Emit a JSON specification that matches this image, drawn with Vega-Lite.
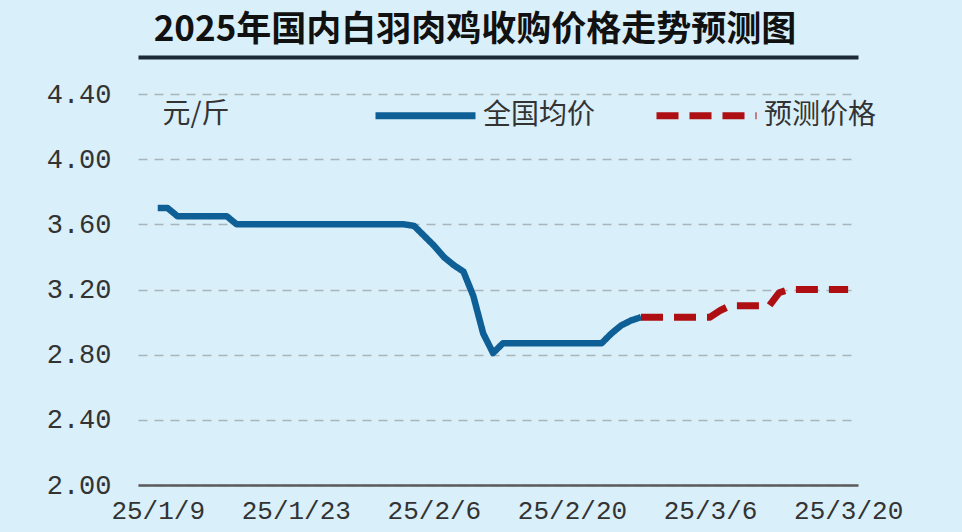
{
  "$schema": "https://vega.github.io/schema/vega-lite/v6.json",
  "width": 720,
  "height": 391,
  "autosize": {"type": "none"},
  "padding": {"left": 138, "top": 94, "right": 104, "bottom": 47},
  "background": "#d9eff9",
  "config": {"view": {"stroke": null}},
  "title": {
    "text": "2025年国内白羽肉鸡收购价格走势预测图",
    "font": "Noto Sans CJK SC",
    "fontWeight": "bold",
    "fontSize": 35,
    "color": "#111111",
    "anchor": "middle",
    "frame": "group",
    "dx": -23,
    "offset": 9
  },
  "data": {
    "values": [
      {"date": "2025/01/09", "price": 3.70, "series": "全国均价"},
      {"date": "2025/01/10", "price": 3.70, "series": "全国均价"},
      {"date": "2025/01/11", "price": 3.65, "series": "全国均价"},
      {"date": "2025/01/12", "price": 3.65, "series": "全国均价"},
      {"date": "2025/01/13", "price": 3.65, "series": "全国均价"},
      {"date": "2025/01/14", "price": 3.65, "series": "全国均价"},
      {"date": "2025/01/15", "price": 3.65, "series": "全国均价"},
      {"date": "2025/01/16", "price": 3.65, "series": "全国均价"},
      {"date": "2025/01/17", "price": 3.60, "series": "全国均价"},
      {"date": "2025/01/18", "price": 3.60, "series": "全国均价"},
      {"date": "2025/01/19", "price": 3.60, "series": "全国均价"},
      {"date": "2025/01/20", "price": 3.60, "series": "全国均价"},
      {"date": "2025/01/21", "price": 3.60, "series": "全国均价"},
      {"date": "2025/01/22", "price": 3.60, "series": "全国均价"},
      {"date": "2025/01/23", "price": 3.60, "series": "全国均价"},
      {"date": "2025/01/24", "price": 3.60, "series": "全国均价"},
      {"date": "2025/01/25", "price": 3.60, "series": "全国均价"},
      {"date": "2025/01/26", "price": 3.60, "series": "全国均价"},
      {"date": "2025/01/27", "price": 3.60, "series": "全国均价"},
      {"date": "2025/01/28", "price": 3.60, "series": "全国均价"},
      {"date": "2025/01/29", "price": 3.60, "series": "全国均价"},
      {"date": "2025/01/30", "price": 3.60, "series": "全国均价"},
      {"date": "2025/01/31", "price": 3.60, "series": "全国均价"},
      {"date": "2025/02/01", "price": 3.60, "series": "全国均价"},
      {"date": "2025/02/02", "price": 3.60, "series": "全国均价"},
      {"date": "2025/02/03", "price": 3.60, "series": "全国均价"},
      {"date": "2025/02/04", "price": 3.59, "series": "全国均价"},
      {"date": "2025/02/05", "price": 3.53, "series": "全国均价"},
      {"date": "2025/02/06", "price": 3.47, "series": "全国均价"},
      {"date": "2025/02/07", "price": 3.40, "series": "全国均价"},
      {"date": "2025/02/08", "price": 3.35, "series": "全国均价"},
      {"date": "2025/02/09", "price": 3.31, "series": "全国均价"},
      {"date": "2025/02/10", "price": 3.16, "series": "全国均价"},
      {"date": "2025/02/11", "price": 2.93, "series": "全国均价"},
      {"date": "2025/02/12", "price": 2.81, "series": "全国均价"},
      {"date": "2025/02/13", "price": 2.87, "series": "全国均价"},
      {"date": "2025/02/14", "price": 2.87, "series": "全国均价"},
      {"date": "2025/02/15", "price": 2.87, "series": "全国均价"},
      {"date": "2025/02/16", "price": 2.87, "series": "全国均价"},
      {"date": "2025/02/17", "price": 2.87, "series": "全国均价"},
      {"date": "2025/02/18", "price": 2.87, "series": "全国均价"},
      {"date": "2025/02/19", "price": 2.87, "series": "全国均价"},
      {"date": "2025/02/20", "price": 2.87, "series": "全国均价"},
      {"date": "2025/02/21", "price": 2.87, "series": "全国均价"},
      {"date": "2025/02/22", "price": 2.87, "series": "全国均价"},
      {"date": "2025/02/23", "price": 2.87, "series": "全国均价"},
      {"date": "2025/02/24", "price": 2.93, "series": "全国均价"},
      {"date": "2025/02/25", "price": 2.98, "series": "全国均价"},
      {"date": "2025/02/26", "price": 3.01, "series": "全国均价"},
      {"date": "2025/02/27", "price": 3.03, "series": "全国均价"},
      {"date": "2025/02/27", "price": 3.03, "series": "预测价格"},
      {"date": "2025/02/28", "price": 3.03, "series": "预测价格"},
      {"date": "2025/03/01", "price": 3.03, "series": "预测价格"},
      {"date": "2025/03/02", "price": 3.03, "series": "预测价格"},
      {"date": "2025/03/03", "price": 3.03, "series": "预测价格"},
      {"date": "2025/03/04", "price": 3.03, "series": "预测价格"},
      {"date": "2025/03/05", "price": 3.03, "series": "预测价格"},
      {"date": "2025/03/06", "price": 3.03, "series": "预测价格"},
      {"date": "2025/03/07", "price": 3.07, "series": "预测价格"},
      {"date": "2025/03/08", "price": 3.10, "series": "预测价格"},
      {"date": "2025/03/09", "price": 3.10, "series": "预测价格"},
      {"date": "2025/03/10", "price": 3.10, "series": "预测价格"},
      {"date": "2025/03/11", "price": 3.10, "series": "预测价格"},
      {"date": "2025/03/12", "price": 3.10, "series": "预测价格"},
      {"date": "2025/03/13", "price": 3.18, "series": "预测价格"},
      {"date": "2025/03/14", "price": 3.20, "series": "预测价格"},
      {"date": "2025/03/15", "price": 3.20, "series": "预测价格"},
      {"date": "2025/03/16", "price": 3.20, "series": "预测价格"},
      {"date": "2025/03/17", "price": 3.20, "series": "预测价格"},
      {"date": "2025/03/18", "price": 3.20, "series": "预测价格"},
      {"date": "2025/03/19", "price": 3.20, "series": "预测价格"},
      {"date": "2025/03/20", "price": 3.20, "series": "预测价格"}
    ]
  },
  "encoding": {
    "y": {
      "field": "price",
      "type": "quantitative",
      "scale": {"domain": [2.0, 4.4], "nice": false, "zero": false},
      "axis": {
        "values": [2.0, 2.4, 2.8, 3.2, 3.6, 4.0, 4.4],
        "format": ".2f",
        "title": "元/斤",
        "titleAngle": 0,
        "titleX": 24,
        "titleY": 20,
        "titleAlign": "left",
        "titleBaseline": "middle",
        "titleFont": "Noto Sans CJK SC",
        "titleFontSize": 28,
        "titleFontWeight": "normal",
        "titleColor": "#333333",
        "domain": false,
        "ticks": false,
        "grid": true,
        "gridColor": "#a9b4bb",
        "gridDash": [9, 7],
        "gridWidth": 1.5,
        "labelFont": "Liberation Mono",
        "labelFontSize": 27,
        "labelColor": "#333333",
        "labelPadding": 27
      }
    },
    "color": {
      "field": "series",
      "type": "nominal",
      "scale": {"domain": ["全国均价", "预测价格"], "range": ["#0e5f95", "#ad0f12"]},
      "legend": {
        "title": null,
        "orient": "none",
        "legendX": 234,
        "legendY": -32,
        "direction": "horizontal",
        "columns": 2,
        "symbolType": "stroke",
        "symbolSize": 10000,
        "symbolStrokeWidth": 7,
        "labelFont": "Noto Sans CJK SC",
        "labelFontSize": 28,
        "labelColor": "#333333",
        "labelOffset": 4,
        "columnPadding": 46,
        "padding": 0
      }
    },
    "strokeDash": {
      "field": "series",
      "type": "nominal",
      "scale": {"domain": ["全国均价", "预测价格"], "range": [[1, 0], [22, 11]]},
      "legend": {
        "title": null,
        "orient": "none",
        "legendX": 234,
        "legendY": -32,
        "direction": "horizontal",
        "columns": 2,
        "symbolType": "stroke",
        "symbolSize": 10000,
        "symbolStrokeWidth": 7,
        "labelFont": "Noto Sans CJK SC",
        "labelFontSize": 28,
        "labelColor": "#333333",
        "labelOffset": 4,
        "columnPadding": 46,
        "padding": 0
      }
    }
  },
  "layer": [
    {
      "transform": [{"filter": "datum.series === '全国均价'"}],
      "mark": {"type": "line", "strokeWidth": 6.5, "strokeJoin": "round"},
      "encoding": {
        "x": {
          "field": "date",
          "type": "temporal",
          "scale": {"domain": [{"year": 2025, "month": 1, "date": 7}, {"year": 2025, "month": 3, "date": 21}]},
          "axis": {
            "title": null,
            "values": [
              {"year": 2025, "month": 1, "date": 9},
              {"year": 2025, "month": 1, "date": 23},
              {"year": 2025, "month": 2, "date": 6},
              {"year": 2025, "month": 2, "date": 20},
              {"year": 2025, "month": 3, "date": 6},
              {"year": 2025, "month": 3, "date": 20}
            ],
            "format": "%y/%-m/%-d",
            "grid": false,
            "ticks": false,
            "domain": true,
            "domainColor": "#5a5a5a",
            "domainWidth": 2.5,
            "labelFont": "Liberation Mono",
            "labelFontSize": 26,
            "labelColor": "#333333",
            "labelPadding": 12,
            "labelOverlap": false
          }
        }
      }
    },
    {
      "transform": [{"filter": "datum.series === '预测价格'"}],
      "mark": {"type": "line", "strokeWidth": 7, "strokeJoin": "round"},
      "encoding": {
        "x": {
          "field": "date",
          "type": "temporal",
          "axis": {
            "orient": "top",
            "title": null,
            "labels": false,
            "ticks": false,
            "grid": false,
            "domain": true,
            "domainColor": "#1b2a36",
            "domainWidth": 4,
            "offset": 37
          }
        }
      }
    }
  ],
  "resolve": {"axis": {"x": "independent"}}
}
